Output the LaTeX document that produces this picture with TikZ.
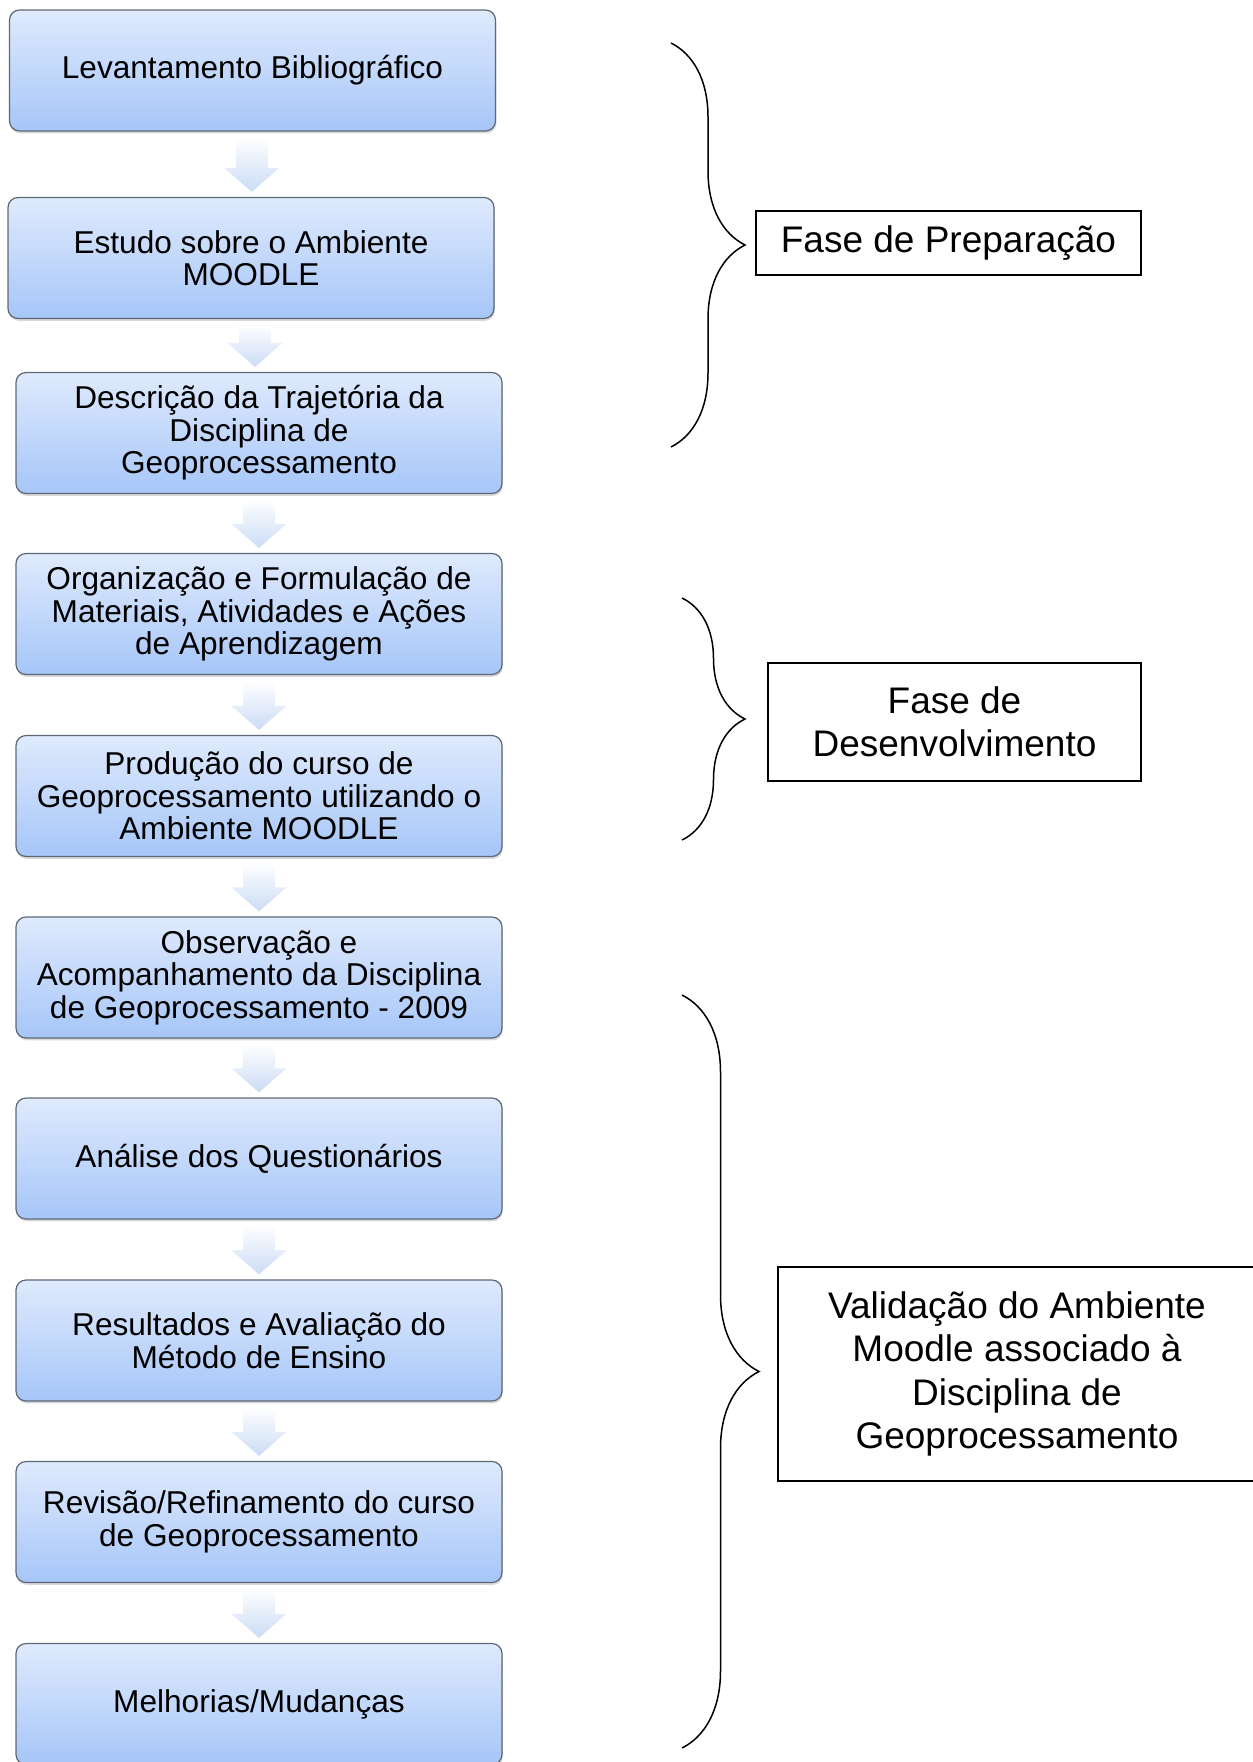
\documentclass[tikz,border=0pt]{standalone}
\usepackage{fontspec}
\setmainfont{Liberation Sans}
\usetikzlibrary{calc,shadows,decorations.pathreplacing}
\definecolor{etapatopo}{RGB}{223,234,253}
\definecolor{etapabase}{RGB}{166,198,248}
\definecolor{etapaborda}{RGB}{95,104,118}
\definecolor{setabase}{RGB}{203,220,245}
\tikzset{
  etapa/.style={rounded corners=5pt, draw=etapaborda, line width=0.6pt,
    top color=etapatopo, bottom color=etapabase, align=center,
    minimum width=243pt, minimum height=60.5pt, inner sep=2pt,
    font=\fontsize{15.8}{16.3}\selectfont,
    drop shadow={opacity=0.3, shadow xshift=0.4pt, shadow yshift=-1.2pt}},
  seta/.style={draw=none, top color=white, bottom color=setabase},
  fase/.style={draw, line width=0.6pt, align=center, inner sep=0pt,
    font=\fontsize{18.5}{21.7}\selectfont},
  chave/.style={decorate, decoration={brace, amplitude=#1}, line width=0.75pt}
}
\begin{document}
\begin{tikzpicture}[x=0.5pt, y=-0.5pt]
   \useasboundingbox (0,0) rectangle (1253,1762);
   \node[etapa] (levant) at (252.5,70.5) {Levantamento Bibliográfico};
   \node[etapa] (estudo) at (251,258) {Estudo sobre o Ambiente\\MOODLE};
   \node[etapa] (descr) at (259,433) {Descrição da Trajetória da\\Disciplina de\\Geoprocessamento};
   \node[etapa] (organiz) at (259,614) {Organização e Formulação de\\Materiais, Atividades e Ações\\de Aprendizagem};
   \node[etapa] (producao) at (259,796) {Produção do curso de\\Geoprocessamento utilizando o\\Ambiente MOODLE};
   \node[etapa] (observ) at (259,977.5) {Observação e\\Acompanhamento da Disciplina\\de Geoprocessamento - 2009};
   \node[etapa] (analise) at (259,1158.5) {Análise dos Questionários};
   \node[etapa] (result) at (259,1340.5) {Resultados e Avaliação do\\Método de Ensino};
   \node[etapa] (revisao) at (259,1522) {Revisão/Refinamento do curso\\de Geoprocessamento};
   \node[etapa] (melhor) at (259,1704) {Melhorias/Mudanças};
   \foreach \a/\b in {levant/estudo, estudo/descr, descr/organiz, organiz/producao,
                      producao/observ, observ/analise, analise/result, result/revisao,
                      revisao/melhor}{
     \coordinate (m) at ($(\a.south)!0.5!(\b.north)$);
     \path[seta] ($(m |- \a.south)+(-8pt,-2.5pt)$) -- ($(m |- \b.north)+(-8pt,14.5pt)$)
       -- ++(-5.75pt,0) -- ($(m |- \b.north)+(0,2.5pt)$) -- ($(m |- \b.north)+(13.75pt,14.5pt)$)
       -- ++(-5.75pt,0) -- ($(m |- \a.south)+(8pt,-2.5pt)$) -- cycle;
   }
   \node[fase, minimum width=192.5pt, minimum height=32pt] (prep) at (948.5,243) {Fase de Preparação};
   \node[fase, minimum width=186.5pt, minimum height=59pt] (desenv) at (954.5,722) {Fase de\\Desenvolvimento};
   \node[fase, minimum width=239pt, minimum height=107pt] (valid) at (1017,1374) {Validação do Ambiente\\Moodle associado à\\Disciplina de\\Geoprocessamento};
   \coordinate (c1a) at (671,43);
   \coordinate (c1b) at (671,447);
   \coordinate (c2a) at (682,598);
   \coordinate (c2b) at (682,840);
   \coordinate (c3a) at (682,995);
   \coordinate (c3b) at (682,1748);
   \draw[chave=37pt] (c1a) -- (c1b);
   \draw[chave=31.5pt] (c2a) -- (c2b);
   \draw[chave=38.5pt] (c3a) -- (c3b);
\end{tikzpicture}
\end{document}
